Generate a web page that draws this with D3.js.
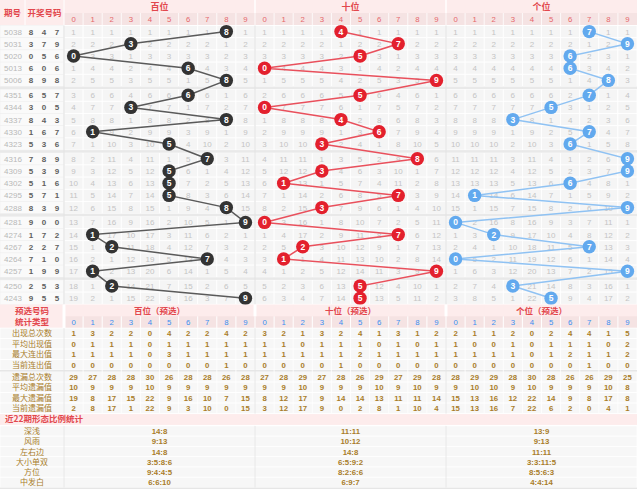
<!DOCTYPE html>
<html>
<head>
<meta charset="utf-8">
<style>
  body { margin: 0; background: #fff; }
  text { font-family: "Liberation Sans", "Noto Sans CJK SC", sans-serif; }
  .cn { font-family: "Noto Sans CJK SC", sans-serif; }
</style>
</head>
<body>
<script src="https://cdn.jsdelivr.net/npm/d3@7"></script>
<script>
// ---- data ----
var periods = ["5038","5031","5020","5013","5006","4351","4344","4337","4330","4323","4316",
               "4309","4302","4295","4288","4281","4274","4267","4264","4257","4250","4243"];
var hundreds = [8,3,0,6,8,6,3,8,1,5,7,5,5,5,8,9,1,2,7,1,2,9];
var tens     = [4,7,5,0,9,5,0,4,6,3,8,3,1,7,3,0,7,2,1,9,5,5];
var units    = [7,9,6,6,8,7,5,3,7,6,9,9,6,1,9,0,2,7,0,9,3,5];
var digitLabels = ["0","1","2","3","4","5","6","7","8","9"];
var sectionNames = ["百位","十位","个位"];
var presetNames = ["百位（预选）","十位（预选）","个位（预选）"];

var statLabels = ["出现总次数","平均出现值","最大连出值","当前连出值","遗漏总次数","平均遗漏值","最大遗漏值","当前遗漏值"];
var statsHundreds = [
  [1,3,2,2,0,4,2,2,4,2],
  [0,1,1,1,0,1,1,1,1,1],
  [1,1,1,1,0,3,1,1,1,1],
  [0,0,0,0,0,0,0,0,1,0],
  [29,27,28,28,30,26,28,28,26,28],
  [10,9,9,9,10,9,9,9,9,9],
  [19,8,17,15,22,9,16,10,7,15],
  [2,8,17,1,22,9,3,10,0,15]
];
var statsTens = [
  [3,2,1,3,2,4,1,3,1,2],
  [1,1,0,1,1,1,0,1,0,1],
  [1,1,1,1,1,2,1,1,1,1],
  [0,0,0,0,1,0,0,0,0,0],
  [27,28,29,27,28,26,29,27,29,28],
  [9,9,10,9,9,9,10,9,10,9],
  [8,12,17,9,14,14,13,11,11,14],
  [3,12,17,9,0,2,8,1,10,4]
];
var statsUnits = [
  [2,1,1,2,0,2,4,4,1,5],
  [1,0,0,1,0,1,1,1,0,2],
  [1,1,1,1,0,1,2,1,1,2],
  [0,0,0,0,0,0,0,1,0,0],
  [28,29,29,28,30,28,26,26,29,25],
  [9,10,10,9,10,9,9,9,10,8],
  [15,13,16,12,22,14,9,8,17,8],
  [15,13,16,7,22,6,2,0,4,1]
];

var patternTitle = "近22期形态比例统计";
var patternLabels = ["深浅","风雨","左右边","大小单双","方位","中发白"];
var patternHundreds = ["14:8","9:13","14:8","3:5:8:6","9:4:4:5","6:6:10"];
var patternTens     = ["11:11","10:12","14:8","6:5:9:2","8:2:6:6","6:9:7"];
var patternUnits    = ["13:9","9:13","11:11","3:3:11:5","8:5:6:3","4:4:14"];

// ---- layout ----
var W = 640, H = 501;
var colP = 25, colG = 64, colR = 637;
var red = "#e2474d", pink = "#fdecec", pink2 = "#f5e3e3", gridBg = "#f5f5f5",
    gridTxt = "#c4c4c4", gold = "#a97d2a", blue = "#3b8ef0";
var ballFill = ["#333333", "#e3202d", "#62a9ee"];
var lineCol  = ["#5a5a5a", "#e9505c", "#8fc2f3"];

var svg = d3.select('body').append('svg').attr('width', W).attr('height', H);

var x = d3.scaleBand().domain(d3.range(30)).range([colG, colR]);
var cw = x.bandwidth();

var gTop = 25.5, rh = 12.2, gap = 2.6;
function rowTop(i) { return gTop + i * rh + Math.floor(i / 5) * gap; }
function rowMid(i) { return rowTop(i) + rh / 2; }
var gridBottom = rowTop(periods.length - 1) + rh;

// header band
svg.append('rect').attr('x', 0).attr('y', 0).attr('width', colR).attr('height', gTop - 0.5).attr('fill', pink);
svg.append('rect').attr('x', colG).attr('y', 13).attr('width', colR - colG).attr('height', gTop - 13.5).attr('fill', pink2);
svg.append('line').attr('x1', colP).attr('x2', colP).attr('y1', 0).attr('y2', gTop).attr('stroke', '#fff');
svg.append('line').attr('x1', colG).attr('x2', colG).attr('y1', 0).attr('y2', gTop).attr('stroke', '#fff');
svg.append('text').attr('class', 'cn').attr('x', colP / 2).attr('y', 16).attr('text-anchor', 'middle')
  .attr('font-size', 8.5).attr('font-weight', 'bold').attr('fill', red).text('期号');
svg.append('text').attr('class', 'cn').attr('x', (colP + colG) / 2).attr('y', 16).attr('text-anchor', 'middle')
  .attr('font-size', 8.5).attr('font-weight', 'bold').attr('fill', red).text('开奖号码');

sectionNames.forEach(function (name, s) {
  svg.append('text').attr('class', 'cn')
    .attr('x', x(s * 10) + cw * 5).attr('y', 10).attr('text-anchor', 'middle')
    .attr('font-size', 9).attr('font-weight', 'bold').attr('fill', red).text(name);
});
svg.selectAll('.dhead').data(d3.range(30)).enter().append('text')
  .attr('x', function (d) { return x(d) + cw / 2; }).attr('y', 22.3)
  .attr('text-anchor', 'middle').attr('font-size', 7.8).attr('fill', '#e5676b')
  .text(function (d) { return digitLabels[d % 10]; });
svg.selectAll('.dsep').data(d3.range(1, 30)).enter().append('line')
  .attr('x1', function (d) { return x(d); }).attr('x2', function (d) { return x(d); })
  .attr('y1', 13).attr('y2', gTop).attr('stroke', '#fff').attr('stroke-width', 0.8);
svg.selectAll('.ssep').data([10, 20]).enter().append('line')
  .attr('x1', function (d) { return x(d); }).attr('x2', function (d) { return x(d); })
  .attr('y1', 0).attr('y2', 13).attr('stroke', '#fff').attr('stroke-width', 1.5);

// main grid rows
var rows = svg.selectAll('.row').data(periods).enter().append('g')
  .attr('transform', function (d, i) { return 'translate(0,' + rowTop(i) + ')'; });
rows.append('rect').attr('x', 0).attr('width', colG).attr('height', rh).attr('fill', '#fafafa')
  .attr('stroke', '#eee').attr('stroke-width', 0.5);
rows.append('text').attr('x', colP / 2 + 0.5).attr('y', rh / 2 + 3).attr('text-anchor', 'middle')
  .attr('font-size', 8).attr('fill', '#b8b8b8').text(function (d) { return d; });
rows.each(function (d, i) {
  var g = d3.select(this);
  var nums = [hundreds[i], tens[i], units[i]];
  g.selectAll('.dn').data(nums).enter().append('text')
    .attr('x', function (v, k) { return 31 + k * 13; }).attr('y', rh / 2 + 3)
    .attr('text-anchor', 'middle').attr('font-size', 8).attr('font-weight', 'bold')
    .attr('fill', '#606060').text(function (v) { return v; });
});
rows.selectAll('.cell').data(d3.range(30)).enter().append('rect')
  .attr('x', function (d) { return x(d); }).attr('width', cw).attr('height', rh)
  .attr('fill', gridBg).attr('stroke', '#fff').attr('stroke-width', 0.8);

// omission counts, counted down the table as in the original
var series = [hundreds, tens, units];
series.forEach(function (ser, s) {
  var miss = d3.range(10).map(function () { return 0; });
  ser.forEach(function (hit, i) {
    for (var c = 0; c < 10; c++) {
      if (c === hit) { miss[c] = 0; continue; }
      miss[c] += 1;
      svg.append('text').attr('x', x(s * 10 + c) + cw / 2).attr('y', rowMid(i) + 3)
        .attr('text-anchor', 'middle').attr('font-size', 8).attr('fill', gridTxt).text(miss[c]);
    }
  });
});

// group separators
svg.selectAll('.gsep').data([5, 10, 15, 20]).enter().append('rect')
  .attr('x', 0).attr('width', colR).attr('y', function (d) { return rowTop(d) - gap; })
  .attr('height', gap).attr('fill', '#e9e9e9');
svg.selectAll('.vsep').data([10, 20]).enter().append('line')
  .attr('x1', function (d) { return x(d); }).attr('x2', function (d) { return x(d); })
  .attr('y1', gTop).attr('y2', gridBottom).attr('stroke', '#e4e4e4').attr('stroke-width', 1.2);
svg.append('line').attr('x1', colG).attr('x2', colG).attr('y1', gTop).attr('y2', gridBottom)
  .attr('stroke', '#e4e4e4').attr('stroke-width', 1.2);

// trend lines and balls
var line = d3.line().x(function (d) { return d[0]; }).y(function (d) { return d[1]; });
series.forEach(function (ser, s) {
  var pts = ser.map(function (v, i) { return [x(s * 10 + v) + cw / 2, rowMid(i)]; });
  svg.append('path').attr('d', line(pts)).attr('fill', 'none')
    .attr('stroke', lineCol[s]).attr('stroke-width', 1.5);
  var b = svg.selectAll('.ball' + s).data(pts).enter().append('g')
    .attr('transform', function (d) { return 'translate(' + d[0] + ',' + d[1] + ')'; });
  b.append('circle').attr('r', 6.7).attr('fill', ballFill[s]);
  b.append('text').attr('y', 3).attr('text-anchor', 'middle').attr('font-size', 8.5)
    .attr('font-weight', 'bold').attr('fill', '#fff')
    .text(function (d, i) { return ser[i]; });
});

// ---- statistics table ----
var sTop = 304.5, sh1 = 11.8, srh = 10.5;
svg.append('rect').attr('x', 0).attr('y', sTop).attr('width', colR).attr('height', sh1 * 2).attr('fill', pink);
svg.append('rect').attr('x', colG).attr('y', sTop + sh1).attr('width', colR - colG).attr('height', sh1).attr('fill', pink2);
svg.selectAll('.pv').data([10, 20]).enter().append('line')
  .attr('x1', function (d) { return x(d); }).attr('x2', function (d) { return x(d); })
  .attr('y1', sTop).attr('y2', sTop + sh1).attr('stroke', '#fff').attr('stroke-width', 3);
svg.append('line').attr('x1', colG).attr('x2', colG).attr('y1', sTop).attr('y2', sTop + sh1 * 2)
  .attr('stroke', '#fff').attr('stroke-width', 3);
svg.append('text').attr('class', 'cn').attr('x', colG / 2).attr('y', sTop + 9).attr('text-anchor', 'middle')
  .attr('font-size', 8.5).attr('font-weight', 'bold').attr('fill', red).text('预选号码');
svg.append('text').attr('class', 'cn').attr('x', colG / 2).attr('y', sTop + sh1 + 9).attr('text-anchor', 'middle')
  .attr('font-size', 8.5).attr('font-weight', 'bold').attr('fill', red).text('统计类型');
presetNames.forEach(function (name, s) {
  svg.append('text').attr('class', 'cn').attr('x', x(s * 10) + cw * 5).attr('y', sTop + 9)
    .attr('text-anchor', 'middle').attr('font-size', 8.5).attr('font-weight', 'bold')
    .attr('fill', red).text(name);
});
svg.selectAll('.sdh').data(d3.range(30)).enter().append('text')
  .attr('x', function (d) { return x(d) + cw / 2; }).attr('y', sTop + sh1 + 8.7)
  .attr('text-anchor', 'middle').attr('font-size', 7.8).attr('fill', blue)
  .text(function (d) { return digitLabels[d % 10]; });
svg.selectAll('.sdv').data(d3.range(1, 30)).enter().append('line')
  .attr('x1', function (d) { return x(d); }).attr('x2', function (d) { return x(d); })
  .attr('y1', sTop + sh1).attr('y2', sTop + sh1 * 2).attr('stroke', '#fff');

var stTop = sTop + sh1 * 2;
function statTop(j) { return stTop + j * srh + (j >= 4 ? 1.5 : 0); }
var allStats = [statsHundreds, statsTens, statsUnits];
statLabels.forEach(function (lab, j) {
  var y0 = statTop(j);
  svg.append('rect').attr('x', 0).attr('y', y0).attr('width', colR).attr('height', srh)
    .attr('fill', '#f7f7f7').attr('stroke', '#fff').attr('stroke-width', 0.8);
  svg.append('text').attr('class', 'cn').attr('x', colG / 2).attr('y', y0 + srh / 2 + 3)
    .attr('text-anchor', 'middle').attr('font-size', 8).attr('fill', gold).text(lab);
  allStats.forEach(function (st, s) {
    svg.selectAll(null).data(st[j]).enter().append('text')
      .attr('x', function (v, c) { return x(s * 10 + c) + cw / 2; }).attr('y', y0 + srh / 2 + 3)
      .attr('text-anchor', 'middle').attr('font-size', 7.8).attr('font-weight', 'bold')
      .attr('fill', gold).text(function (v) { return v; });
  });
});
svg.append('rect').attr('x', 0).attr('y', statTop(4) - 1.5).attr('width', colR).attr('height', 1.5).attr('fill', '#e4e4e4');
svg.selectAll('.stv').data(d3.range(0, 30)).enter().append('line')
  .attr('x1', function (d) { return x(d); }).attr('x2', function (d) { return x(d); })
  .attr('y1', stTop).attr('y2', statTop(8))
  .attr('stroke', function (d) { return d % 10 === 0 ? '#e4e4e4' : '#fff'; }).attr('stroke-width', 0.8);

// ---- pattern ratio table ----
var pTop = statTop(8) + 0.5, ph = 10.8, prh = 10.27;
svg.append('rect').attr('x', 0).attr('y', pTop).attr('width', colR).attr('height', ph).attr('fill', pink);
svg.append('text').attr('class', 'cn').attr('x', 5).attr('y', pTop + 8.3)
  .attr('font-size', 8.5).attr('font-weight', 'bold').attr('fill', red).text(patternTitle);
var allPatterns = [patternHundreds, patternTens, patternUnits];
var prTop = pTop + ph + 1;
patternLabels.forEach(function (lab, j) {
  var y0 = prTop + j * prh;
  svg.append('rect').attr('x', 0).attr('y', y0).attr('width', colR).attr('height', prh)
    .attr('fill', '#f7f7f7').attr('stroke', '#fff').attr('stroke-width', 0.8);
  svg.append('text').attr('class', 'cn').attr('x', colG / 2).attr('y', y0 + prh / 2 + 3)
    .attr('text-anchor', 'middle').attr('font-size', 8).attr('fill', gold).text(lab);
  allPatterns.forEach(function (pt, s) {
    svg.append('text').attr('x', x(s * 10) + cw * 5).attr('y', y0 + prh / 2 + 3)
      .attr('text-anchor', 'middle').attr('font-size', 7.8).attr('font-weight', 'bold')
      .attr('fill', gold).text(pt[j]);
  });
});
svg.selectAll('.pv2').data([0, 10, 20]).enter().append('line')
  .attr('x1', function (d) { return x(d); }).attr('x2', function (d) { return x(d); })
  .attr('y1', prTop).attr('y2', prTop + prh * 6).attr('stroke', '#e4e4e4').attr('stroke-width', 0.8);
svg.append('rect').attr('x', 0).attr('y', prTop + prh * 6).attr('width', colR).attr('height', 1.5).attr('fill', '#e6e6e6');
</script>
</body>
</html>
